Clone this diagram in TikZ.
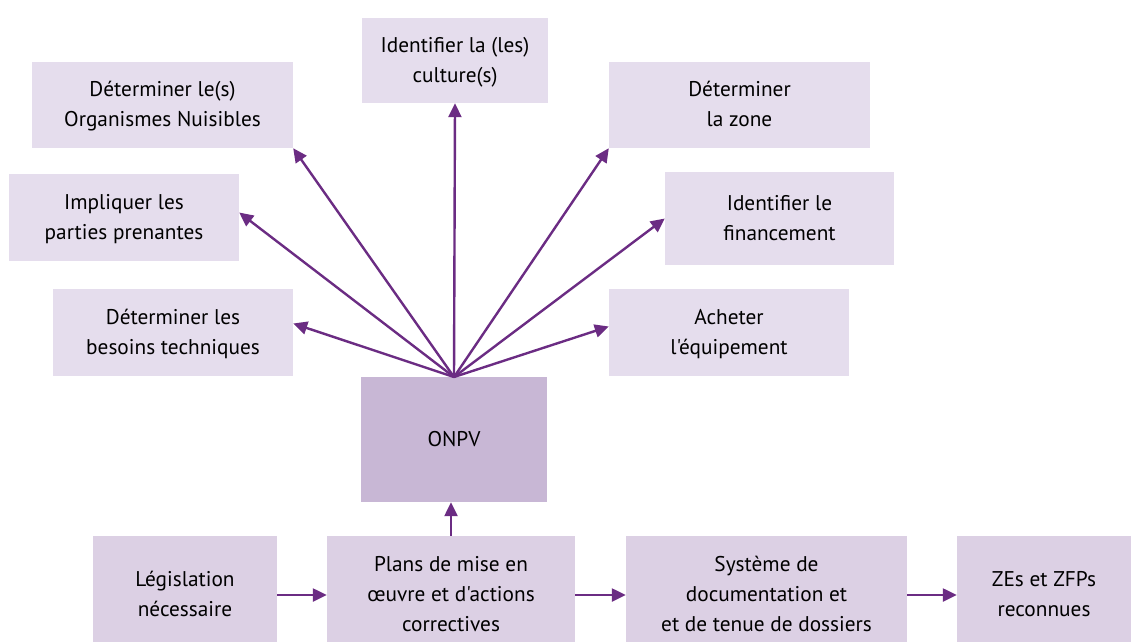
\documentclass[tikz,border=0pt]{standalone}
\usepackage{fontspec}
\newfontfamily\ptsans{PT Sans}
\usetikzlibrary{arrows.meta}
\definecolor{boxlight}{HTML}{E5DDED}
\definecolor{boxbot}{HTML}{DCD0E4}
\definecolor{boxdark}{HTML}{C8B7D5}
\definecolor{arr}{HTML}{6B2C83}
\begin{document}
\begin{tikzpicture}[x=1pt,y=-1pt,
  every node/.style={font=\ptsans\fontsize{21.3}{30}\selectfont, align=center, inner sep=0pt, text=black},
  bx/.style={fill=boxlight, draw=none, text height=43pt, text depth=0pt},
  bb/.style={fill=boxbot, draw=none},
  con/.style={draw=arr, line width=2.4pt, -{Triangle[length=14pt,width=13pt]}}]
\useasboundingbox (0,0) rectangle (1131,641);
\node[bx, minimum width=186pt, minimum height=85pt] (cult) at (455,60.5) {Identifier la (les)\\culture(s)};
\node[bx, minimum width=261pt, minimum height=86pt] (org) at (162.5,105) {Déterminer le(s)\\Organismes Nuisibles};
\node[bx, minimum width=261pt, minimum height=86pt] (zone) at (739.5,105) {Déterminer\\la zone};
\node[bx, minimum width=230pt, minimum height=87pt] (impl) at (124,217.5) {Impliquer les\\parties prenantes};
\node[bx, minimum width=229pt, minimum height=93pt] (fin) at (779.5,218.5) {Identifier le\\financement};
\node[bx, minimum width=240pt, minimum height=87pt] (bes) at (173,332.5) {Déterminer les\\besoins techniques};
\node[bx, minimum width=240pt, minimum height=87pt] (ach) at (729,332.5) {Acheter\\l'équipement};
\node[fill=boxdark, minimum width=186pt, minimum height=125pt] (onpv) at (454,439.5) {ONPV};
\node[bb, minimum width=184pt, minimum height=116pt] (leg) at (185,594) {Législation\\nécessaire};
\node[bb, minimum width=248pt, minimum height=116pt] (plan) at (451,594) {Plans de mise en\\œuvre et d'actions\\correctives};
\node[bb, minimum width=281pt, minimum height=116pt] (sys) at (766.5,594) {Système de\\documentation et\\et de tenue de dossiers};
\node[bb, minimum width=174pt, minimum height=116pt] (zes) at (1044,594) {ZEs et ZFPs\\reconnues};
\coordinate (hub) at (454,377);
\draw[con] (hub) -- (cult.south);
\draw[con] (hub) -- (org.south east);
\draw[con] (hub) -- (zone.south west);
\draw[con] (hub) -- ([yshift=5pt]impl.east);
\draw[con] (hub) -- (fin.west);
\draw[con] (hub) -- ([yshift=9pt]bes.east);
\draw[con] (hub) -- ([yshift=6pt]ach.west);
\draw[con] (plan.north) -- (plan.north |- onpv.south);
\draw[con] ([yshift=-1pt]leg.east) -- ([yshift=-1pt]plan.west);
\draw[con] ([yshift=-1pt]plan.east) -- ([yshift=-1pt]sys.west);
\draw[con] ([yshift=-1pt]sys.east) -- ([yshift=-1pt]zes.west);
\end{tikzpicture}
\end{document}
